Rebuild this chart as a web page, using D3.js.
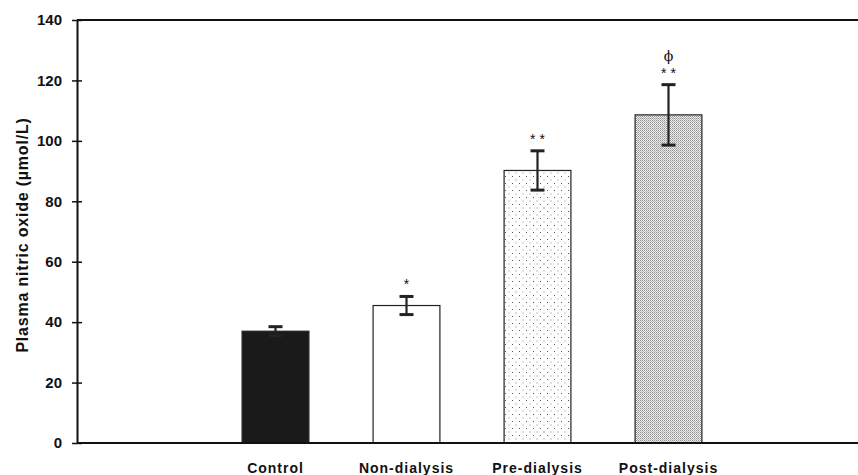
<!DOCTYPE html>
<html><head><meta charset="utf-8">
<script src="https://cdn.jsdelivr.net/npm/d3@7"></script>
<style>body{margin:0;background:#fff}svg{display:block}text{font-family:"Liberation Sans",Arial,sans-serif;font-weight:bold;fill:#111}</style>
</head><body>
<svg id="c" width="858" height="475"></svg>
<script>
const categories = ["Control","Non-dialysis","Pre-dialysis","Post-dialysis"];
const values = [37, 45.5, 90.2, 108.6];
const errors = [1.5, 3, 6.5, 10];
const marks = ["", "*", "* *", "* *"];
const extraMarks = ["", "", "", "\u03D5"];
const yTicks = [0,20,40,60,80,100,120,140];

const svg = d3.select("#c");
const defs = svg.append("defs");
const p1 = defs.append("pattern").attr("id","dots").attr("patternUnits","userSpaceOnUse").attr("width",7).attr("height",7);
p1.append("rect").attr("width",7).attr("height",7).attr("fill","#fff");
p1.append("rect").attr("x",1).attr("y",1).attr("width",1).attr("height",1).attr("fill","#555");
p1.append("rect").attr("x",4.5).attr("y",4.5).attr("width",1).attr("height",1).attr("fill","#888");
const p2 = defs.append("pattern").attr("id","gray").attr("patternUnits","userSpaceOnUse").attr("width",2).attr("height",2);
p2.append("rect").attr("width",2).attr("height",2).attr("fill","#ececec");
p2.append("rect").attr("x",0).attr("y",0).attr("width",1).attr("height",1).attr("fill","#909090");
p2.append("rect").attr("x",1).attr("y",1).attr("width",1).attr("height",1).attr("fill","#b4b4b4");

const fills = ["#1a1a1a","#fff","url(#dots)","url(#gray)"];

const x = d3.scaleBand().domain(categories).range([210,734]).paddingInner(0.49).paddingOuter(0.245);
const y = d3.scaleLinear().domain([0,140]).range([443,20]);
const x0 = 77, xEnd = 858;

// bars
svg.selectAll("rect.bar").data(categories).enter().append("rect")
  .attr("class","bar")
  .attr("x",d=>x(d)).attr("width",x.bandwidth())
  .attr("y",(d,i)=>y(values[i])).attr("height",(d,i)=>y(0)-y(values[i]))
  .attr("fill",(d,i)=>fills[i]).attr("stroke","#222").attr("stroke-width",1.2);

// error bars
const eg = svg.append("g").attr("stroke","#222");
categories.forEach((c,i)=>{
  const cx = x(c)+x.bandwidth()/2;
  const hi = y(values[i]+errors[i]), lo = y(values[i]-errors[i]);
  eg.append("line").attr("x1",cx).attr("x2",cx).attr("y1",hi).attr("y2",lo).attr("stroke-width",2.2);
  eg.append("line").attr("x1",cx-7).attr("x2",cx+7).attr("y1",hi).attr("y2",hi).attr("stroke-width",3);
  eg.append("line").attr("x1",cx-7).attr("x2",cx+7).attr("y1",lo).attr("y2",lo).attr("stroke-width",3);
  if (marks[i]) svg.append("text").attr("x",cx).attr("y",hi-7).attr("text-anchor","middle")
    .style("font-weight","normal").style("font-size","14px").text(marks[i]);
  if (extraMarks[i]) svg.append("text").attr("x",cx).attr("y",hi-24).attr("text-anchor","middle")
    .style("font-weight","normal").style("font-family","DejaVu Serif").style("font-size","14px").text(extraMarks[i]);
});

// axes
const yAxis = d3.axisLeft(y).tickValues(yTicks).tickSizeInner(4).tickSizeOuter(0).tickPadding(11);
const ga = svg.append("g").attr("transform",`translate(${x0},0)`).call(yAxis);
ga.select(".domain").attr("stroke","#111").attr("stroke-width",2);
ga.selectAll(".tick line").attr("x1",-5).attr("x2",5).attr("stroke","#111").attr("stroke-width",1.5);
ga.selectAll(".tick text").style("font-size","15px").style("fill","#111");

svg.append("line").attr("x1",x0).attr("x2",xEnd).attr("y1",y(0)).attr("y2",y(0)).attr("stroke","#111").attr("stroke-width",2);
svg.append("line").attr("x1",x0).attr("x2",xEnd).attr("y1",y(140)).attr("y2",y(140)).attr("stroke","#111").attr("stroke-width",2);

const xAxis = d3.axisBottom(x).tickSize(0).tickPadding(20);
const gx = svg.append("g").attr("transform",`translate(0,${y(0)})`).call(xAxis);
gx.select(".domain").remove();
gx.selectAll(".tick text").style("font-size","14px").style("letter-spacing","1px").style("fill","#111");

svg.append("text").attr("transform","translate(28,235) rotate(-90)").attr("text-anchor","middle")
  .style("font-size","16px").style("letter-spacing","0.8px").text("Plasma nitric oxide (\u00B5mol/L)");
</script>
</body></html>
